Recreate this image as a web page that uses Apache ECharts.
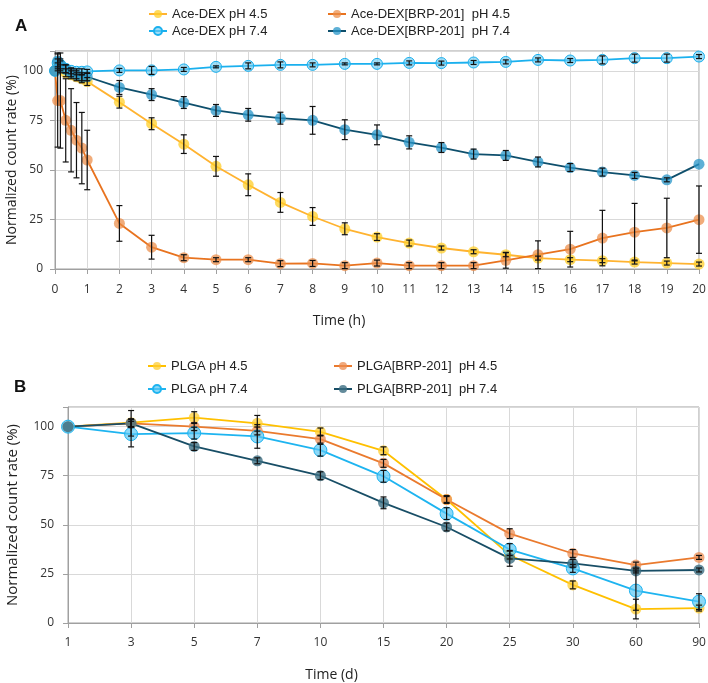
<!DOCTYPE html>
<html>
<head>
<meta charset="utf-8">
<script src="https://cdn.jsdelivr.net/npm/echarts@6/dist/echarts.min.js"></script>
<style>html,body{margin:0;padding:0;background:#fff}#c{width:708px;height:683px}</style>
</head>
<body>
<div id="c"></div>
<script>
// ---- Panel A data ----
const timeA = [0, 0.083, 0.167, 0.333, 0.5, 0.667, 0.833, 1, 2, 3, 4, 5, 6, 7, 8, 9, 10, 11, 12, 13, 14, 15, 16, 17, 18, 19, 20];
const aceDex45 = [100, 102, 101, 99, 98, 97, 96, 94.6, 84.2, 73.3, 63, 51.8, 42.5, 33.6, 26.5, 20.3, 16.1, 13.1, 10.6, 8.7, 7.2, 5.5, 4.7, 4.2, 3.5, 3, 2.5];
const aceDex45Err = [0, 2, 2, 2, 2, 2, 2, 2, 3, 3, 4.7, 5, 5.5, 5, 4.5, 3, 1.7, 1.5, 1, 1, 1, 1, 1, 1, 1, 1, 1];
const aceDex74 = [100, 104, 103, 101, 100, 99.5, 99.5, 99.7, 100.2, 100.2, 100.7, 102, 102.5, 103, 103, 103.5, 103.5, 104, 103.9, 104.2, 104.5, 105.5, 105.2, 105.5, 106.4, 106.4, 107.2];
const aceDex74Err = [0, 2, 2, 2, 1.5, 1.5, 1.5, 1, 1, 2, 1, 0.5, 1.5, 1.5, 1, 0.5, 0.5, 1, 1, 1, 1, 1, 1, 2, 2, 2, 1];
const aceBrp45 = [100, 85, 85, 75, 70, 65, 61, 55, 23, 11, 5.7, 4.7, 4.7, 2.7, 2.8, 1.7, 3, 1.7, 1.7, 1.7, 4.4, 7.2, 10, 15.6, 18.6, 20.7, 24.9];
const aceBrp45Err = [0, 23.5, 24, 21, 21, 19, 18, 15, 9, 6, 1.5, 1, 1, 1.5, 1.5, 1.5, 1.5, 1.5, 1.5, 1.5, 4, 7, 9, 14, 14.5, 15, 17];
const aceBrp74 = [100, 105, 103, 101, 99, 98, 97, 97, 91.6, 88, 84, 80, 77.8, 76.1, 75, 70.3, 67.7, 63.9, 61.3, 58, 57.3, 54, 51.2, 48.9, 47.2, 45, 52.9];
const aceBrp74Err = [0, 4, 3, 2, 2, 2, 2, 2, 3.5, 3, 3, 3, 3.2, 3, 7, 5, 5, 3.3, 2.5, 2.5, 2.5, 2.5, 2, 2, 1.5, 1, 0];
const xTicksA = [0, 20, 1]; // min, max, interval
const yTicks = [0, 110, 25];

// ---- Panel B data ----
const daysB = ['1', '3', '5', '7', '10', '15', '20', '25', '30', '60', '90'];
const plga45 = [100, 102, 104.6, 101.7, 97.3, 87.7, 62.9, 34.6, 19.4, 7.1, 7.6];
const plga45Err = [0, 2, 3, 4, 2, 2, 1.5, 2, 2, 5, 1.5];
const plga74 = [100, 96.2, 96.7, 95, 88, 74.7, 55.7, 37.4, 27.8, 16.5, 10.9];
const plga74Err = [0, 6.5, 3, 6, 3, 3, 3, 3, 2, 10, 4];
const plgaBrp45 = [100, 101.7, 100, 97.8, 93.6, 81.3, 62.9, 45.5, 35.4, 29.5, 33.4];
const plgaBrp45Err = [0, 2, 2, 2, 2, 2, 2, 2.5, 2, 1.5, 1];
const plgaBrp74 = [100, 101.7, 89.9, 82.6, 75, 61.2, 48.9, 32.9, 30.4, 26.5, 27];
const plgaBrp74Err = [0, 6.5, 2, 1.5, 2, 3, 2, 4, 2, 1, 1];

const tickFont = 'Open Sans';
const legFont = 'Liberation Sans';

function pairs(xs, ys) { return xs.map((x, i) => [x, ys[i]]); }
function errData(xs, ys, es) { return xs.map((x, i) => [x, ys[i], es[i]]); }
function errSeries(name, xi, yi, data) {
  return {
    type: 'custom', name: name + ' err', xAxisIndex: xi, yAxisIndex: yi, z: 5, silent: true,
    data: data,
    renderItem: function (params, api) {
      const x = api.value(0), y = api.value(1), e = api.value(2);
      if (!e) return null;
      const top = api.coord([x, y + e]);
      const bot = api.coord([x, y - e]);
      const cap = 3;
      const st = { stroke: '#111', lineWidth: 1.2 };
      return {
        type: 'group', children: [
          { type: 'line', shape: { x1: top[0], y1: top[1], x2: bot[0], y2: bot[1] }, style: st },
          { type: 'line', shape: { x1: top[0] - cap, y1: top[1], x2: top[0] + cap, y2: top[1] }, style: st },
          { type: 'line', shape: { x1: bot[0] - cap, y1: bot[1], x2: bot[0] + cap, y2: bot[1] }, style: st }
        ]
      };
    }
  };
}
function lineSeries(name, xi, yi, data, lineColor, fill, size, border) {
  return {
    type: 'line', name: name, xAxisIndex: xi, yAxisIndex: yi, data: data,
    symbol: 'circle', symbolSize: size, z: 3,
    lineStyle: { color: lineColor, width: 1.8 },
    itemStyle: { color: fill, borderColor: border || 'transparent', borderWidth: border ? 1 : 0 },
    emphasis: { disabled: true }
  };
}

const gridColor = '#d9d9d9';
const axisColor = '#a0a0a0';
function yAxis(gi, nameSize, gap, margin) {
  return {
    type: 'value', gridIndex: gi, min: yTicks[0], max: yTicks[1], interval: yTicks[2],
    name: 'Normalized count rate (%)', nameLocation: 'middle', nameGap: gap, nameRotate: 90,
    nameMoveOverlap: false,
    nameTextStyle: { fontFamily: tickFont, fontSize: nameSize, color: '#222' },
    axisLine: { show: true, lineStyle: { color: axisColor } },
    axisTick: { show: true, length: 5, lineStyle: { color: axisColor } },
    axisLabel: { fontFamily: tickFont, fontSize: 12, color: '#333', margin: margin,
      formatter: v => (v % 25 === 0 ? String(v) : '') },
    splitLine: { show: true, lineStyle: { color: gridColor } }
  };
}

const legendCommon = {
  orient: 'vertical', itemWidth: 18, itemHeight: 10,
  textStyle: { fontFamily: legFont, fontSize: 13, color: '#222', lineHeight: 14 },
  selectedMode: false
};

const option = {
  animation: false,
  backgroundColor: '#fff',
  title: [
    { text: 'A', left: 10, top: 13, textStyle: { fontFamily: legFont, fontSize: 17, fontWeight: 'bold', color: '#111' } },
    { text: 'B', left: 9, top: 374, textStyle: { fontFamily: legFont, fontSize: 17, fontWeight: 'bold', color: '#111' } }
  ],
  legend: [
    Object.assign({}, legendCommon, { left: 143, top: 2, itemGap: 3, data: ['Ace-DEX pH 4.5', 'Ace-DEX pH 7.4'] }),
    Object.assign({}, legendCommon, { left: 322, top: 2, itemGap: 3, data: ['Ace-DEX[BRP-201]  pH 4.5', 'Ace-DEX[BRP-201]  pH 7.4'] }),
    Object.assign({}, legendCommon, { left: 142, top: 354, itemGap: 9, data: ['PLGA pH 4.5', 'PLGA pH 7.4'] }),
    Object.assign({}, legendCommon, { left: 328, top: 354, itemGap: 9, data: ['PLGA[BRP-201]  pH 4.5', 'PLGA[BRP-201]  pH 7.4'] })
  ],
  grid: [
    { left: 55, right: 9, top: 51, height: 218, containLabel: false, outerBoundsMode: 'none', show: true, borderColor: axisColor, borderWidth: 1, backgroundColor: 'transparent' },
    { left: 68, right: 9, top: 407, height: 216, containLabel: false, outerBoundsMode: 'none', show: true, borderColor: axisColor, borderWidth: 1, backgroundColor: 'transparent' }
  ],
  xAxis: [
    {
      type: 'value', gridIndex: 0, min: xTicksA[0], max: xTicksA[1], interval: xTicksA[2],
      name: 'Time (h)', nameLocation: 'middle', nameGap: 45, nameMoveOverlap: false,
      nameTextStyle: { fontFamily: tickFont, fontSize: 14, color: '#222', padding: [0, 76, 0, 0] },
      axisLine: { show: true, onZero: false, lineStyle: { color: axisColor } },
      axisTick: { show: true, length: 5, lineStyle: { color: axisColor } },
      axisLabel: { fontFamily: tickFont, fontSize: 12, color: '#333', margin: 15 },
      splitLine: { show: true, lineStyle: { color: gridColor } }
    },
    {
      type: 'category', gridIndex: 1, data: daysB, boundaryGap: false,
      name: 'Time (d)', nameLocation: 'middle', nameGap: 45, nameMoveOverlap: false,
      nameTextStyle: { fontFamily: tickFont, fontSize: 14, color: '#222', padding: [0, 104, 0, 0] },
      axisLine: { show: true, onZero: false, lineStyle: { color: axisColor } },
      axisTick: { show: true, length: 5, alignWithLabel: true, lineStyle: { color: axisColor } },
      axisLabel: { fontFamily: tickFont, fontSize: 12, color: '#333', margin: 14 },
      splitLine: { show: true, lineStyle: { color: gridColor } }
    }
  ],
  yAxis: [yAxis(0, 14, 36, 12), yAxis(1, 15, 48, 14)],
  series: [
    lineSeries('Ace-DEX pH 4.5', 0, 0, pairs(timeA, aceDex45), '#FFB330', 'rgba(255,205,40,0.75)', 11),
    lineSeries('Ace-DEX[BRP-201]  pH 4.5', 0, 0, pairs(timeA, aceBrp45), '#E8731F', 'rgba(236,140,70,0.72)', 11),
    lineSeries('Ace-DEX pH 7.4', 0, 0, pairs(timeA, aceDex74), '#1AB0EE', 'rgba(110,205,243,0.65)', 11, '#1AB0EE'),
    lineSeries('Ace-DEX[BRP-201]  pH 7.4', 0, 0, pairs(timeA, aceBrp74), '#0E4F6C', 'rgba(40,150,200,0.75)', 11),
    errSeries('a1', 0, 0, errData(timeA, aceDex45, aceDex45Err)),
    errSeries('a2', 0, 0, errData(timeA, aceBrp45, aceBrp45Err)),
    errSeries('a3', 0, 0, errData(timeA, aceDex74, aceDex74Err)),
    errSeries('a4', 0, 0, errData(timeA, aceBrp74, aceBrp74Err)),

    lineSeries('PLGA pH 4.5', 1, 1, plga45, '#FFC000', 'rgba(255,205,50,0.75)', 11),
    lineSeries('PLGA[BRP-201]  pH 4.5', 1, 1, plgaBrp45, '#EA7A2E', 'rgba(236,140,80,0.75)', 11),
    lineSeries('PLGA pH 7.4', 1, 1, plga74, '#1EB4F0', 'rgba(90,200,245,0.7)', 13, '#1EB4F0'),
    lineSeries('PLGA[BRP-201]  pH 7.4', 1, 1, plgaBrp74, '#184E66', 'rgba(60,110,130,0.8)', 11),
    errSeries('b1', 1, 1, errData(daysB.map((d, i) => i), plga45, plga45Err)),
    errSeries('b2', 1, 1, errData(daysB.map((d, i) => i), plgaBrp45, plgaBrp45Err)),
    errSeries('b3', 1, 1, errData(daysB.map((d, i) => i), plga74, plga74Err)),
    errSeries('b4', 1, 1, errData(daysB.map((d, i) => i), plgaBrp74, plgaBrp74Err))
  ]
};
echarts.init(document.getElementById('c'), null, { renderer: 'canvas' }).setOption(option);
</script>
</body>
</html>
